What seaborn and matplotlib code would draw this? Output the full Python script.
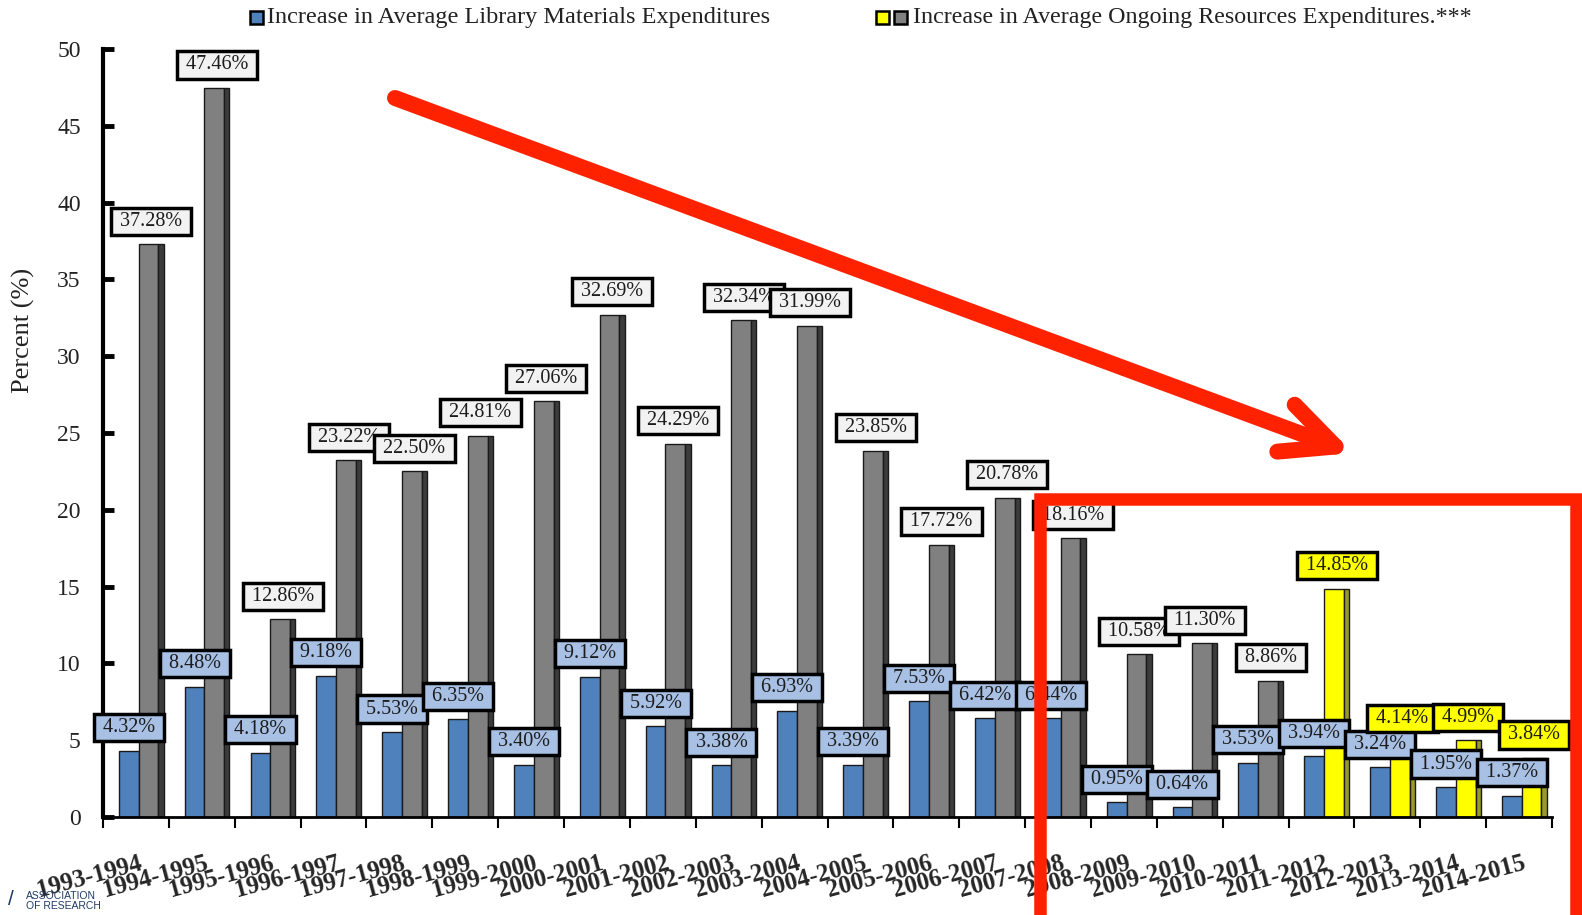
import numpy as np
import pandas as pd
import seaborn as sns
import matplotlib.pyplot as plt
from matplotlib.patches import Rectangle, FancyArrowPatch

# ARL: annual increase in average expenditures (percent)
periods = ['1993-1994', '1994-1995', '1995-1996', '1996-1997', '1997-1998', '1998-1999',
           '1999-2000', '2000-2001', '2001-2002', '2002-2003', '2003-2004', '2004-2005',
           '2005-2006', '2006-2007', '2007-2008', '2008-2009', '2009-2010', '2010-2011',
           '2011-2012', '2012-2013', '2013-2014', '2014-2015']
library = [4.32, 8.48, 4.18, 9.18, 5.53, 6.35, 3.40, 9.12, 5.92, 3.38, 6.93, 3.39,
           7.53, 6.42, 6.44, 0.95, 0.64, 3.53, 3.94, 3.24, 1.95, 1.37]
ongoing = [37.28, 47.46, 12.86, 23.22, 22.50, 24.81, 27.06, 32.69, 24.29, 32.34, 31.99, 23.85,
           17.72, 20.78, 18.16, 10.58, 11.30, 8.86, 14.85, 4.14, 4.99, 3.84]
# ongoing-resources years shown in yellow
ongoing_yellow = [False] * 18 + [True] * 4

lib_name = 'Increase in Average Library Materials Expenditures'
ong_name = 'Increase in Average Ongoing Resources Expenditures.***'

BLUE = '#4F81BD'
GREY = '#808080'
YELLOW = '#FFFF00'
GREY_SIDE = '#3C3C3C'
YELLOW_SIDE = '#9A9A2A'
LBL_BLUE = '#A7C0E4'
LBL_GREY = '#F2F2F2'
RED = '#FF2200'

sns.set_theme(style='white')
plt.rcParams['font.family'] = ['Liberation Serif', 'DejaVu Serif']

W, H = 1582, 915
fig = plt.figure(figsize=(W / 100, H / 100), dpi=100)
ax = fig.add_axes([103 / W, 1 - 817 / H, (1552 - 103) / W, (817 - 49) / H])

df = pd.DataFrame({
    'period': periods * 2,
    'value': library + ongoing,
    'series': [lib_name] * len(periods) + [ong_name] * len(periods),
})

sns.barplot(data=df, x='period', y='value', hue='series', hue_order=[lib_name, ong_name],
            palette=[BLUE, GREY], width=0.6, saturation=1, errorbar=None,
            edgecolor='#1a1a1a', linewidth=1.0, legend=False, ax=ax, zorder=2)

# yellow for the later ongoing-resources years
for patch, yl in zip(ax.containers[1], ongoing_yellow):
    if yl:
        patch.set_facecolor(YELLOW)

# dark side strip (3D look) on the ongoing bars
x = np.arange(len(periods))
ax.bar(x + 0.34, ongoing, width=0.08,
       color=[YELLOW_SIDE if yl else GREY_SIDE for yl in ongoing_yellow],
       edgecolor='#1a1a1a', linewidth=1.0, zorder=2)

# boxed value labels
z = 3
for i in range(len(periods)):
    ax.text(i - 0.15, library[i] + 1.5, f' {library[i]:.2f}% ', ha='center', va='center',
            fontsize=14.5, color='#1c1c1c', zorder=z,
            bbox=dict(boxstyle='square,pad=0.2', fc=LBL_BLUE, ec='black', lw=2.5))
    lift = 2.3 if periods[i] == '2012-2013' else 1.5
    ax.text(i + 0.19, ongoing[i] + lift, f' {ongoing[i]:.2f}% ', ha='center', va='center',
            fontsize=14.5, color='#1c1c1c', zorder=z + 1,
            bbox=dict(boxstyle='square,pad=0.2', fc=YELLOW if ongoing_yellow[i] else LBL_GREY,
                      ec='black', lw=2.5))
    z += 2

ax.set_xlim(-0.54, len(periods) - 0.54)
ax.set_ylim(0, 50)
ax.set_yticks(range(0, 51, 5))
ax.set_xticks(x, periods, rotation=15, ha='right', rotation_mode='anchor',
              fontweight='bold', fontsize=18)
ax.set_xticks(np.arange(len(periods) + 1) - 0.54, minor=True)
ax.tick_params(axis='x', which='major', length=0, pad=25)
ax.tick_params(axis='x', which='minor', length=8, width=1.5, direction='out',
               color='black', bottom=True)
ax.tick_params(axis='y', direction='in', length=8, width=3.5, color='black',
               left=True, pad=16, labelsize=17, labelcolor='#222222')
for side in ['top', 'right']:
    ax.spines[side].set_visible(False)
ax.spines['left'].set_linewidth(3)
ax.spines['left'].set_color('black')
ax.spines['bottom'].set_linewidth(2)
ax.spines['bottom'].set_color('black')
ax.set_xlabel('')
ax.set_ylabel('Percent (%)', fontsize=19, color='#222222')
ax.yaxis.set_label_coords(-0.047, 0.634)

# legend drawn by hand at the top
def square(px, color):
    fig.add_artist(Rectangle((px / W, 1 - 24 / H), 13 / W, 13 / H, transform=fig.transFigure,
                             fc=color, ec='black', lw=1.8))

square(250, BLUE)
fig.text(267 / W, 1 - 18 / H, lib_name, fontsize=17.5, va='center', ha='left', color='#222222')
square(876, YELLOW)
square(894, GREY)
fig.text(913 / W, 1 - 18 / H, ong_name, fontsize=17.3, va='center', ha='left', color='#222222')

# red call-out arrow and box
arrow = FancyArrowPatch((395 / W, 1 - 98 / H), (1353 / W, 1 - 453 / H),
                        transform=fig.transFigure,
                        arrowstyle='->,head_length=1.9,head_width=0.9', mutation_scale=20,
                        lw=11.5, color=RED, shrinkA=0, shrinkB=0, capstyle='round', zorder=20)
fig.add_artist(arrow)
fig.add_artist(Rectangle((1040 / W, -0.1), (1576 - 1040) / W, (1 - 499 / H) + 0.1,
                         transform=fig.transFigure, fill=False, ec=RED, lw=9, zorder=20))

# ARL logo text at the bottom-left corner
fig.text(8 / W, 1 - 890 / H, '/', fontsize=15, color='#1f3b66', va='top', family='Liberation Sans')
fig.text(26 / W, 1 - 891 / H, 'ASSOCIATION\nOF RESEARCH', fontsize=7.5, color='#1f3b66',
         va='top', family='Liberation Sans', linespacing=0.95)

fig.savefig('out.png', dpi=100)
